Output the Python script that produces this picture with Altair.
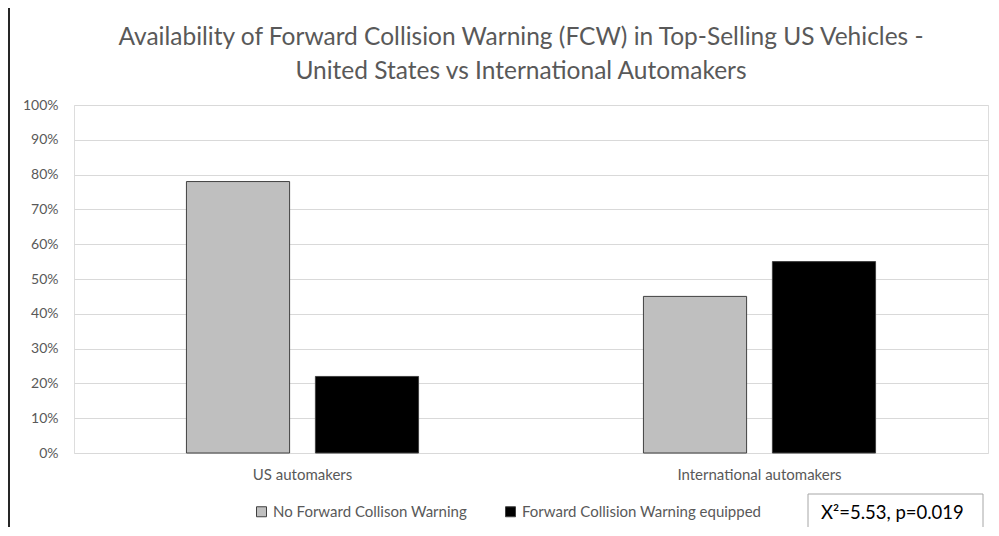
import altair as alt
import pandas as pd

groups = ["US automakers", "International automakers"]
series = ["No Forward Collison Warning", "Forward Collision Warning equipped"]
no_fcw = [0.78, 0.45]
fcw = [0.22, 0.55]
y_ticks = [0.0, 0.1, 0.2, 0.3, 0.4, 0.5, 0.6, 0.7, 0.8, 0.9, 1.0]
colors = ["#BFBFBF", "#000000"]
title_lines = ["Availability of Forward Collision Warning (FCW) in Top-Selling US Vehicles -",
               "United States vs International Automakers"]
stat_text = ["X\u00b2=5.53, p=0.019"]

rows = []
for i, g in enumerate(groups):
    rows.append({"group": g, "series": series[0], "value": no_fcw[i]})
    rows.append({"group": g, "series": series[1], "value": fcw[i]})
df = pd.DataFrame(rows)

FONT = "Lato"
W, H = 914, 348

bars = alt.Chart(df).mark_bar(stroke="#404040", strokeWidth=1).encode(
    x=alt.X("group:N", sort=groups,
            scale=alt.Scale(paddingInner=0.492, paddingOuter=0.246),
            axis=alt.Axis(title=None, labelAngle=0, ticks=False, domain=False, grid=False,
                          labelFont=FONT, labelFontSize=15, labelColor="#595959",
                          labelPadding=14)),
    xOffset=alt.XOffset("series:N", sort=series,
                        scale=alt.Scale(paddingInner=0.2, paddingOuter=0)),
    y=alt.Y("value:Q", scale=alt.Scale(domain=[0, 1]),
            axis=alt.Axis(title=None, values=y_ticks, format=".0%", ticks=False, domain=False,
                          grid=True, gridColor="#D9D9D9", gridWidth=1,
                          labelFont=FONT, labelFontSize=14, labelColor="#595959",
                          labelPadding=16)),
    color=alt.Color("series:N", sort=series,
                    scale=alt.Scale(domain=series, range=colors),
                    legend=alt.Legend(title=None, orient="none", direction="horizontal",
                                      legendX=180, legendY=399, padding=0,
                                      symbolType="square", symbolSize=100,
                                      symbolStrokeColor="#404040", symbolStrokeWidth=1,
                                      labelFont=FONT, labelFontSize=15, labelColor="#595959",
                                      labelOffset=4, columnPadding=36, labelLimit=400)),
)

stat_df = pd.DataFrame({"label": stat_text})
box = alt.Chart(stat_df).mark_rect(fill="white", stroke="#A6A6A6", strokeWidth=1).encode(
    x=alt.value(734), x2=alt.value(909), y=alt.value(389), y2=alt.value(440))
stat = alt.Chart(stat_df).mark_text(align="left", baseline="alphabetic", font=FONT,
                                    fontSize=18.5, color="#000000").encode(
    x=alt.value(747), y=alt.value(414), text="label:N")
frame = alt.Chart(stat_df).mark_rule(color="#262626", strokeWidth=2).encode(
    x=alt.value(-65), y=alt.value(-97), y2=alt.value(430))

chart = alt.layer(bars, box, stat, frame).properties(
    width=W, height=H,
    title=alt.TitleParams(text=title_lines, font=FONT, fontSize=24.5, fontWeight="normal",
                          color="#595959", anchor="middle", lineHeight=34, dx=-10, offset=-77),
    autosize=alt.AutoSizeParams(type="none"),
    padding={"left": 66, "top": 97, "right": 3, "bottom": 74},
).configure_view(stroke=None).configure(background="white")

chart.save("out.html", embed_options={"renderer": "svg", "actions": False})
